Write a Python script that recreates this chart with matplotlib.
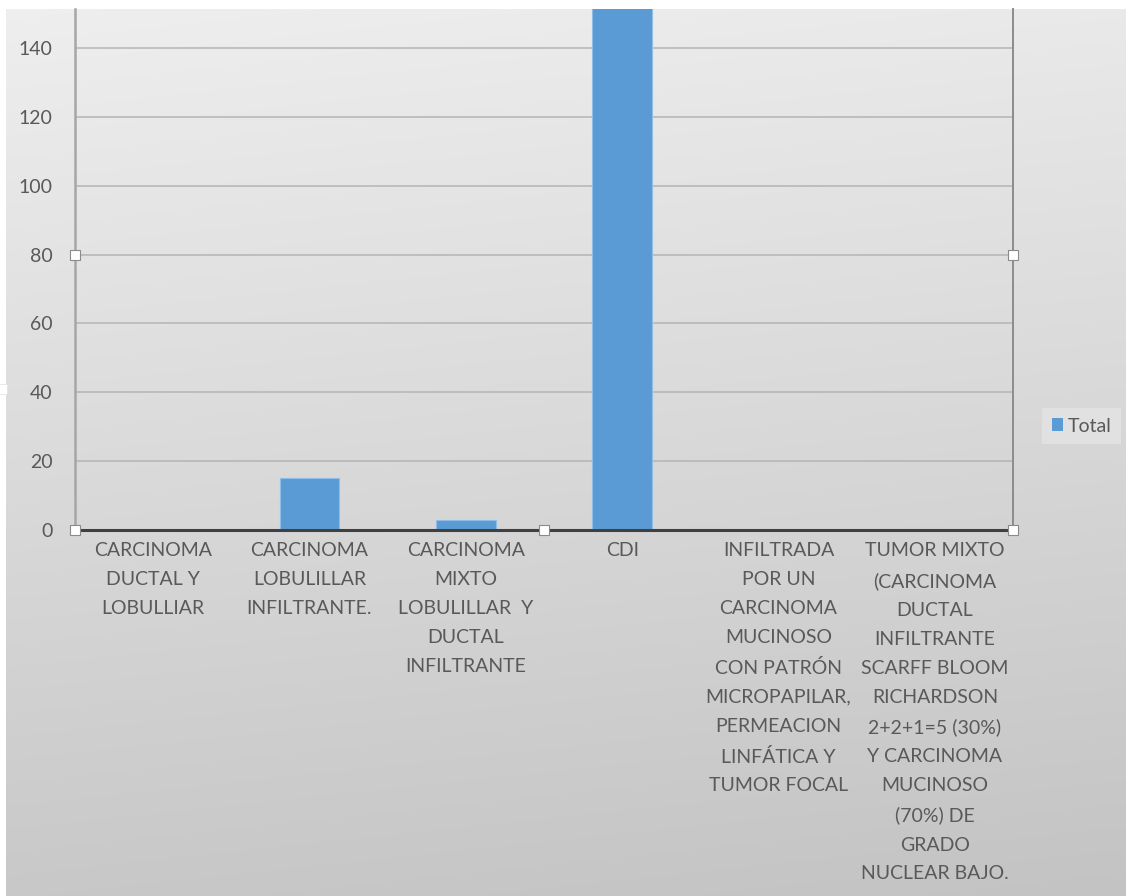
import numpy as np
import matplotlib
matplotlib.use("Agg")
import matplotlib.pyplot as plt
from matplotlib.patches import Patch

# tipos histológicos y conteos
tick_labels = [
    "CARCINOMA\nDUCTAL Y\nLOBULLIAR",
    "CARCINOMA\nLOBULILLAR\nINFILTRANTE.",
    "CARCINOMA\nMIXTO\nLOBULILLAR  Y\nDUCTAL\nINFILTRANTE",
    "CDI",
    "INFILTRADA\nPOR UN\nCARCINOMA\nMUCINOSO\nCON PATRÓN\nMICROPAPILAR,\nPERMEACION\nLINFÁTICA Y\nTUMOR FOCAL",
    "TUMOR MIXTO\n(CARCINOMA\nDUCTAL\nINFILTRANTE\nSCARFF BLOOM\nRICHARDSON\n2+2+1=5 (30%)\nY CARCINOMA\nMUCINOSO\n(70%) DE\nGRADO\nNUCLEAR BAJO.",
]
totals = [0, 15, 3, 160, 0, 0]
y_ticks = [0, 20, 40, 60, 80, 100, 120, 140]
series_name = "Total"

plt.rcParams['font.family'] = ['Lato', 'DejaVu Sans']
TXT = '#595959'
BLUE = '#5b9bd5'

W, H = 1126, 896
fig = plt.figure(figsize=(W / 100, H / 100), dpi=100)
fig.patch.set_facecolor('white')

# fondo degradado del área del gráfico
bg = fig.add_axes([6 / W, 0, 1 - 6 / W, (H - 9) / H], zorder=0)
gy = np.linspace(0, 1, 256)[:, None]
gx = np.linspace(0, 1, 256)[None, :]
shade = 0.935 - 0.15 * gy - 0.02 * gx
bg.imshow(np.dstack([shade] * 3), aspect='auto', extent=[0, 1, 1, 0],
          interpolation='bilinear')
bg.set_axis_off()

x0, x1, yb, yt = 75, 1013, 530, 9
ax = fig.add_axes([x0 / W, (H - yb) / H, (x1 - x0) / W, (yb - yt) / H], zorder=1)
ax.patch.set_alpha(0)

x = np.arange(len(totals))
ax.bar(x, totals, width=0.38, color=BLUE, edgecolor='#8fbde8', linewidth=0.8,
       zorder=2)

ax.set_xlim(-0.5, len(totals) - 0.5)
ax.set_ylim(0, (yb - yt) / ((yb - 48) / 140))
ax.set_yticks(y_ticks)
ax.set_xticks(x)
ax.set_xticklabels(tick_labels, ha='center', va='top', multialignment='center',
                   linespacing=1.85)
ax.tick_params(axis='both', length=0, labelsize=14, labelcolor=TXT)
ax.tick_params(axis='y', pad=16)
ax.tick_params(axis='x', pad=9)
ax.grid(axis='y', color='#b4b4b4', linewidth=1.1, zorder=0)
ax.set_axisbelow(True)

ax.spines['top'].set_visible(False)
ax.spines['left'].set_color('#a6a6a6')
ax.spines['left'].set_linewidth(1.8)
ax.spines['right'].set_color('#8c8c8c')
ax.spines['right'].set_linewidth(1.4)
ax.spines['bottom'].set_color('#404040')
ax.spines['bottom'].set_linewidth(2.2)
ax.spines['bottom'].set_zorder(3)

# tiradores de selección del área de trazado
hy = (yb - 255) / (yb - yt)
ax.plot([0, 0, 0.5, 1, 1], [hy, 0, 0, hy, 0], 's', transform=ax.transAxes,
        ms=6.5, mfc='white', mec='#8a8a8a', mew=0.8, clip_on=False, zorder=5)
fig.lines.append(plt.Line2D([2 / W], [(H - 389) / H], marker='s', ms=6.5,
                            mfc='white', mec='#e0e0e0', mew=0.5,
                            transform=fig.transFigure))

leg = fig.legend(handles=[Patch(facecolor=BLUE, label=series_name)],
                 loc='center left', bbox_to_anchor=(1042 / W, (H - 426) / H),
                 fontsize=14, frameon=True, fancybox=False, borderpad=0.5,
                 handlelength=0.6, handleheight=0.6, handletextpad=0.2,
                 borderaxespad=0)
leg.get_frame().set_facecolor('#e4e4e4')
leg.get_frame().set_edgecolor('none')
for t in leg.get_texts():
    t.set_color(TXT)

fig.savefig('out.png', dpi=100)
